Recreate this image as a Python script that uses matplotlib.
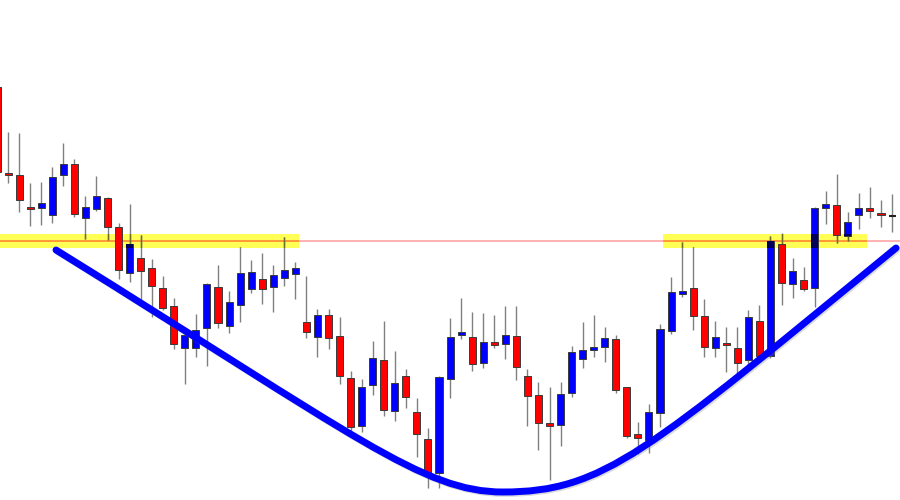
import matplotlib
matplotlib.use("Agg")
import matplotlib.pyplot as plt
from matplotlib.patches import Rectangle, PathPatch
from matplotlib.path import Path
import matplotlib.patheffects as pe

# ---- candle data (price units) ----
opens = [413, 327, 325, 293, 292, 285, 325, 336, 282, 291,
         302, 273, 227, 242, 232, 212, 194, 152, 152, 172,
         213, 174, 195, 211, 221, 213, 222, 226, 178, 163,
         185, 164, 122, 74, 115, 140, 89, 124, 88, 61,
         27, 121, 165, 163, 137, 158, 156, 164, 124, 105,
         77, 75, 107, 141, 150, 153, 161, 113, 66, 60,
         87, 169, 206, 212, 184, 152, 157, 152, 140, 179,
         144, 256, 216, 220, 212, 292, 295, 264, 285, 292,
         287, 284]
highs = [413, 368, 367, 317, 318, 333, 357, 341, 304, 324,
         303, 277, 296, 265, 241, 224, 202, 166, 186, 217,
         235, 209, 253, 240, 247, 235, 263, 238, 224, 191,
         191, 183, 129, 121, 159, 179, 149, 131, 102, 72,
         124, 182, 202, 188, 187, 185, 194, 194, 131, 118,
         113, 118, 154, 178, 185, 173, 165, 113, 78, 96,
         176, 223, 258, 253, 201, 179, 173, 173, 190, 195,
         264, 267, 242, 233, 293, 309, 326, 288, 307, 313,
         300, 306]
lows = [328, 317, 288, 274, 275, 277, 314, 283, 261, 289,
        260, 221, 218, 200, 183, 190, 151, 116, 143, 134,
        172, 167, 178, 207, 196, 188, 214, 201, 162, 143,
        151, 116, 69, 68, 105, 84, 79, 92, 43, 12,
        12, 102, 161, 129, 132, 152, 141, 120, 74, 50,
        20, 54, 103, 132, 143, 138, 107, 62, 46, 47,
        73, 166, 203, 170, 143, 143, 128, 127, 135, 139,
        142, 195, 202, 209, 193, 276, 257, 259, 271, 282,
        273, 268]
closes = [328, 325, 300, 291, 297, 323, 336, 286, 293, 304,
          273, 230, 256, 229, 214, 192, 156, 165, 170, 216,
          177, 198, 227, 228, 211, 225, 230, 232, 168, 185,
          162, 124, 73, 113, 142, 90, 117, 103, 66, 27,
          123, 163, 168, 136, 158, 155, 165, 133, 104, 77,
          74, 106, 148, 150, 153, 162, 110, 64, 62, 88,
          171, 208, 209, 184, 153, 163, 155, 137, 183, 144,
          259, 217, 229, 211, 292, 296, 265, 278, 292, 289,
          285, 284]

# ---- annotations ----
resistance = 259
band_half_height = 7
band_ranges = [(-1.0, 27.3), (60.3, 78.75)]       # in candle-index units
curve_x = [5.34, 32.49, 38.55, 45.79, 54.84, 58.73, 81.36]
curve_y = [250, 64, 8, 8, 8, 47, 252]

BULL = '#0000ff'
BEAR = '#ff0000'
EDGE = '#3a3a3a'
WICK = '#808080'
BAND = '#ffff55'
LINE = '#ff9c9c'

fig = plt.figure(figsize=(9, 5), dpi=100)
ax = fig.add_axes([0, 0, 1, 1])
ax.set_xlim(0.27, 81.72)
ax.set_ylim(0, 500)
ax.axis('off')

# bands
band_patches = []
for x0, x1 in band_ranges:
    r = Rectangle((x0, resistance - band_half_height), x1 - x0, 2 * band_half_height,
                  facecolor=BAND, edgecolor='none', zorder=1)
    ax.add_patch(r)
    band_patches.append(r)

# resistance line
ax.axhline(resistance, color=LINE, lw=1.1, zorder=1.5)
for bp in band_patches:
    ln = ax.axhline(resistance, color='#ff9a36', lw=1.4, zorder=1.6)
    ln.set_clip_path(bp)

# candles
w = 0.64
for i, (o, h, l, c) in enumerate(zip(opens, highs, lows, closes)):
    ax.vlines(i, l, h, color=WICK, lw=1.0, zorder=2)
    for bp in band_patches:
        wl = ax.vlines(i, l, h, color='#6e6e2a', lw=1.0, zorder=2.1)
        wl.set_clip_path(bp)
    bottom = min(o, c)
    height = abs(c - o)
    if height == 0:
        ax.hlines(o, i - w / 2, i + w / 2, color='#222222', lw=1.5, zorder=3)
        continue
    fc = BULL if c > o else BEAR
    ax.add_patch(Rectangle((i - w / 2, bottom), w, height, facecolor=fc,
                           edgecolor=EDGE, lw=0.7, zorder=3))
    if c > o:
        for bp in band_patches:
            ov = Rectangle((i - w / 2, bottom), w, height, facecolor='#000058',
                           edgecolor='none', zorder=3.1)
            ax.add_patch(ov)
            ov.set_clip_path(bp)

# rounded-bottom curve
verts = list(zip(curve_x, curve_y))
codes = [Path.MOVETO] + [Path.CURVE4] * (len(verts) - 1)
curve = PathPatch(Path(verts, codes), fill=False, edgecolor='#0000ff', lw=5.0,
                  capstyle='round', zorder=5)
curve.set_path_effects([pe.SimpleLineShadow(offset=(1.0, -1.0), shadow_color='#888888', alpha=0.3),
                        pe.Normal()])
ax.add_patch(curve)

fig.savefig('out.png', dpi=100, facecolor='white')
